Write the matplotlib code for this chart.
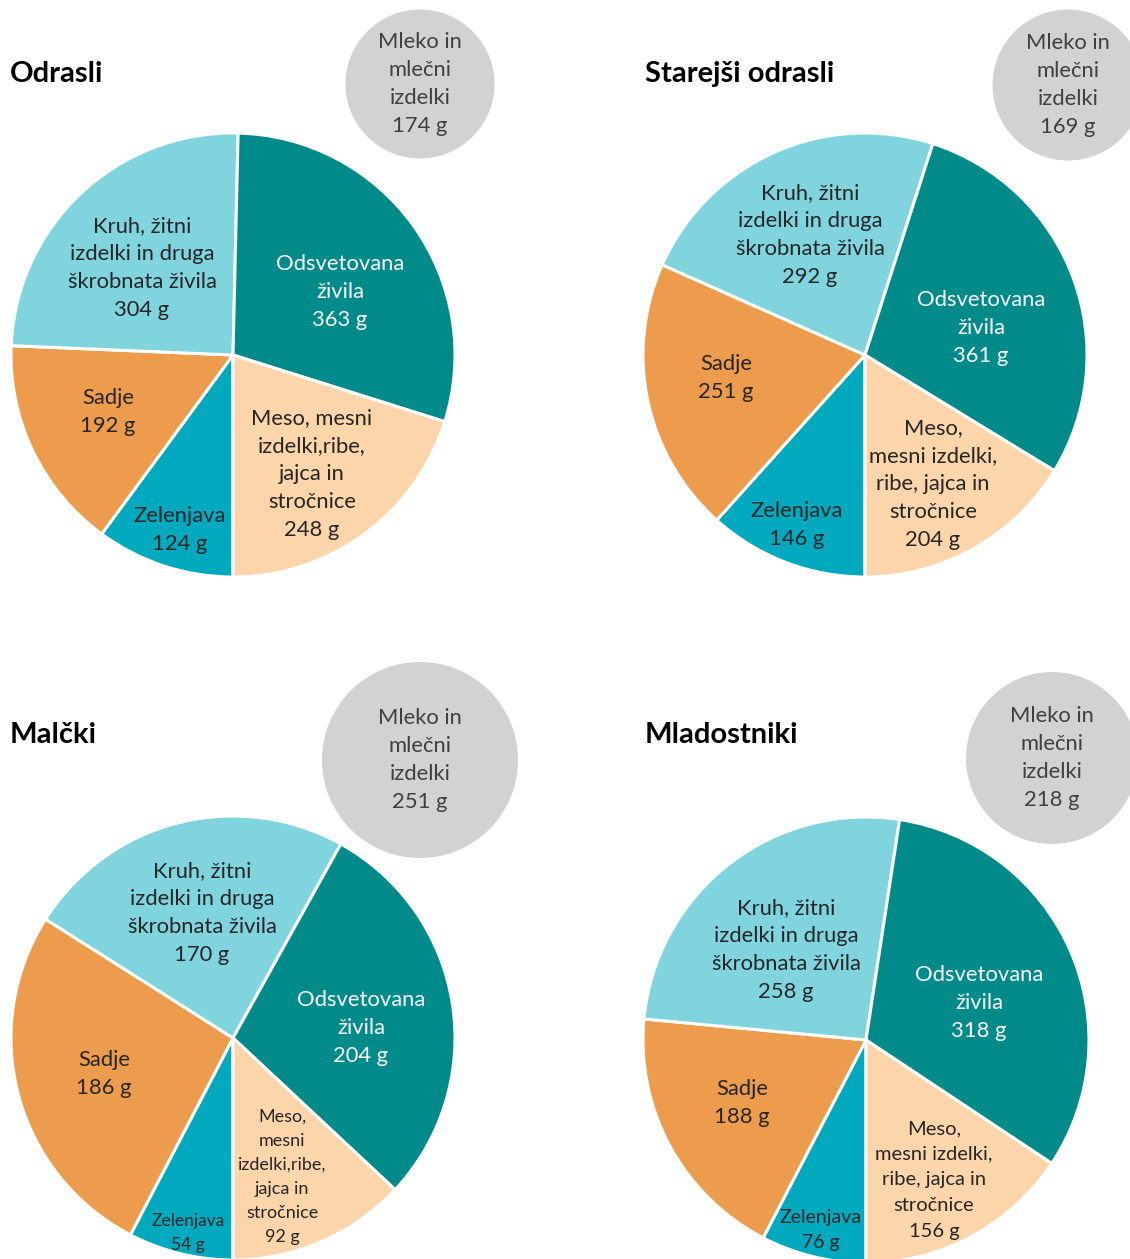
import matplotlib
matplotlib.use("Agg")
import matplotlib.pyplot as plt
from matplotlib.patches import Circle

plt.rcParams['font.family'] = ['Lato', 'DejaVu Sans']

# podatki (g na dan)
groups = ["Odrasli", "Starejši odrasli", "Malčki", "Mladostniki"]
odsvetovana = [363, 361, 204, 318]
meso = [248, 204, 92, 156]
zelenjava = [124, 146, 54, 76]
sadje = [192, 251, 186, 188]
kruh = [304, 292, 170, 258]
mleko = [174, 169, 251, 218]

meso_text = [
    "Meso, mesni\nizdelki,ribe,\njajca in\nstročnice",
    "Meso,\nmesni izdelki,\nribe, jajca in\nstročnice",
    "Meso,\nmesni\nizdelki,ribe,\njajca in\nstročnice",
    "Meso,\nmesni izdelki,\nribe, jajca in\nstročnice",
]

col_odsv = "#008A8A"
col_meso = "#FCD5AB"
col_zel = "#00A9BE"
col_sadje = "#EC9C4C"
col_kruh = "#80D4DE"
col_mleko = "#D1D2D4"

W, H = 1130, 1259
fig = plt.figure(figsize=(W / 100, H / 100), dpi=100)
ax = fig.add_axes([0, 0, 1, 1])

# postavitev v pikslih (y od zgoraj)
pie_center = [(233, 355), (865, 355), (233, 1038), (866, 1040)]
pie_r = [222, 222, 222, 223]
milk_center = [(420, 84), (1068, 85), (420, 760), (1052, 758)]
milk_r = [74.5, 75.5, 98, 86]
title_pos = [(10, 74), (645, 74), (10, 735), (645, 735)]
# odmiki napisov od središča torte: kruh, odsv, sadje, zelenjava, meso
lab_off = [
    [(-91, -87), (107, -63), (-125, 57), (-53, 175), (79, 119)],
    [(-55, -120), (116, -27), (-139, 23), (-68, 170), (68, 129)],
    [(-31, -125), (128, -10), (-129, 36), (-45, 195), (49, 139)],
    [(-80, -90), (113, -37), (-124, 63), (-45, 190), (68, 140)],
]
fs = 15.8
small = [(fs, fs), (fs, fs), (12.5, 13), (14, 14.5)]  # velikost: zelenjava, meso
lsp = 1.5

dark = "#262626"
for i in range(4):
    cx, cy = pie_center[i]
    vals = [zelenjava[i], sadje[i], kruh[i], odsvetovana[i], meso[i]]
    cols = [col_zel, col_sadje, col_kruh, col_odsv, col_meso]
    ax.pie(vals, colors=cols, startangle=-90, counterclock=False,
           center=(cx, H - cy), radius=pie_r[i],
           wedgeprops=dict(edgecolor="white", linewidth=2.2))

    mx, my = milk_center[i]
    ax.add_patch(Circle((mx, H - my), milk_r[i], facecolor=col_mleko, edgecolor="none"))
    ax.text(mx, H - my, f"Mleko in\nmlečni\nizdelki\n{mleko[i]} g", ha="center", va="center",
            fontsize=fs, color="#404040", linespacing=lsp)

    texts = [
        (f"Kruh, žitni\nizdelki in druga\nškrobnata živila\n{kruh[i]} g", dark, fs),
        (f"Odsvetovana\nživila\n{odsvetovana[i]} g", "white", fs),
        (f"Sadje\n{sadje[i]} g", dark, fs),
        (f"Zelenjava\n{zelenjava[i]} g", dark, small[i][0]),
        (f"{meso_text[i]}\n{meso[i]} g", dark, small[i][1]),
    ]
    for (t, c, size), (dx, dy) in zip(texts, lab_off[i]):
        ax.text(cx + dx, H - (cy + dy), t, ha="center", va="center", fontsize=size,
                color=c, linespacing=lsp if size >= 15 else 1.62, multialignment="center")

    tx, ty = title_pos[i]
    ax.text(tx, H - ty, groups[i], ha="left", va="center", fontsize=21,
            fontweight="bold", color="black")

ax.set_xlim(0, W)
ax.set_ylim(0, H)
ax.set_aspect("equal")
ax.axis("off")
fig.savefig("out.png", dpi=100)
